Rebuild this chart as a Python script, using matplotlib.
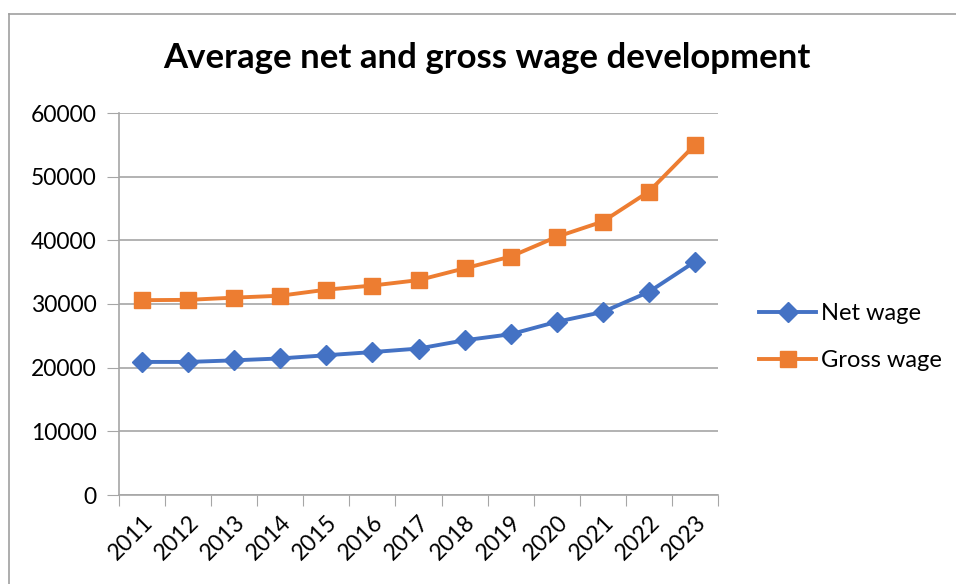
import matplotlib.pyplot as plt
from matplotlib.lines import Line2D

# === DATA ===
years = ["2011", "2012", "2013", "2014", "2015", "2016", "2017",
         "2018", "2019", "2020", "2021", "2022", "2023"]
net_wage = [20900, 20900, 21150, 21450, 21950, 22450, 23000,
            24300, 25250, 27200, 28750, 31900, 36650]
gross_wage = [30600, 30650, 31000, 31300, 32250, 32900, 33750,
              35600, 37450, 40550, 42950, 47650, 55000]

BLUE = "#4472C4"
ORANGE = "#ED7D31"
GRID = "#A6A6A6"

plt.rcParams['font.family'] = ['Lato', 'DejaVu Sans']

W, H = 956, 584
fig = plt.figure(figsize=(W / 100, H / 100), dpi=100)

# outer chart frame (only top and left edge visible)
fig.add_artist(Line2D([9 / W, 9 / W], [0, 1 - 14 / H], transform=fig.transFigure,
                      color="#A0A0A0", lw=1.2))
fig.add_artist(Line2D([9 / W, 1], [1 - 14 / H, 1 - 14 / H], transform=fig.transFigure,
                      color="#A0A0A0", lw=1.2))

left, right, top, bottom = 119, 718, 113, 495
ax = fig.add_axes([left / W, 1 - bottom / H, (right - left) / W, (bottom - top) / H])

x = list(range(len(years)))
ax.plot(x, net_wage, color=BLUE, lw=2.8, marker="D", ms=10, label="Net wage", zorder=3)
ax.plot(x, gross_wage, color=ORANGE, lw=2.8, marker="s", ms=11.5, label="Gross wage", zorder=3)

ax.set_xlim(-0.5, len(years) - 0.5)
ax.set_ylim(0, 60000)
ax.set_yticks(range(0, 60001, 10000))
ax.tick_params(axis="y", labelsize=16.5, length=9, color=GRID, pad=7)
ax.yaxis.grid(True, color=GRID, lw=1.2)
ax.set_axisbelow(True)

# category ticks sit between the categories
ax.set_xticks([i - 0.5 for i in range(len(years) + 1)])
ax.set_xticklabels([])
ax.set_xticks(x, minor=True)
ax.set_xticklabels(years, minor=True, rotation=45, ha="right", va="top",
                   rotation_mode="anchor", fontsize=16.5)
ax.tick_params(axis="x", which="major", length=8, color=GRID)
ax.tick_params(axis="x", which="minor", length=0, pad=12)

for s in ["top", "right"]:
    ax.spines[s].set_visible(False)
ax.spines["left"].set_color(GRID)
ax.spines["bottom"].set_color(GRID)
ax.spines["left"].set_linewidth(1.2)
ax.spines["bottom"].set_linewidth(1.2)

fig.text(0.5 * (163 + 810) / W, 1 - 58 / H, "Average net and gross wage development",
         ha="center", va="center", fontsize=25, fontweight="bold")

fig.legend(handles=ax.get_lines(), loc="center left",
           bbox_to_anchor=(738 / W, 1 - 337 / H), frameon=False, fontsize=17,
           handlelength=2.4, labelspacing=1.1, handletextpad=0.2)

fig.savefig("out.png", dpi=100)
